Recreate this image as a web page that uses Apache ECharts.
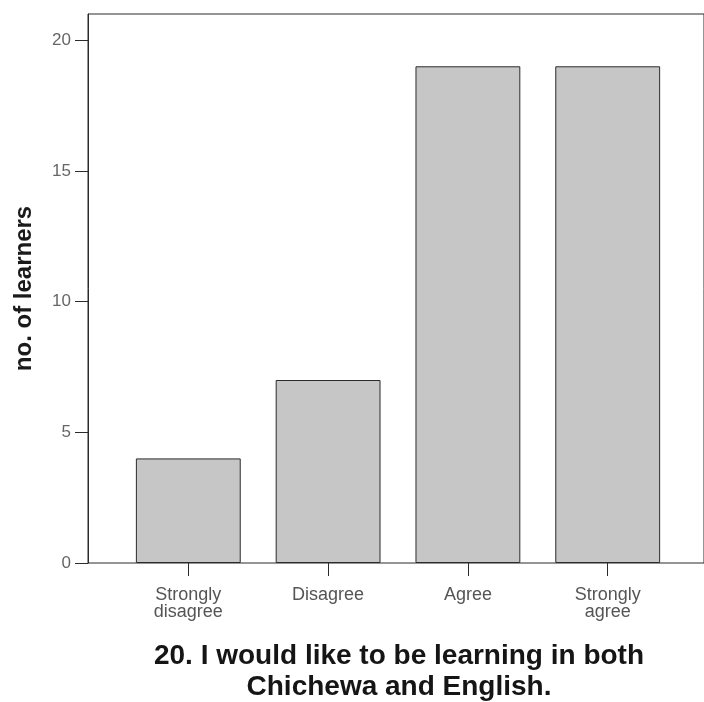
<!DOCTYPE html>
<html>
<head>
<meta charset="utf-8">
<script src="https://cdn.jsdelivr.net/npm/echarts@6/dist/echarts.min.js"></script>
<style>html,body{margin:0;padding:0;background:#fff;}#c{width:704px;height:702px;}</style>
</head>
<body>
<div id="c"></div>
<script>
const categories = ['Strongly\ndisagree', 'Disagree', 'Agree', 'Strongly\nagree'];
const learners = [4, 7, 19, 19];
const yTicks = [0, 5, 10, 15, 20];
const titleText = '20. I would like to be learning in both\nChichewa and English.';
const yName = 'no. of learners';

const chart = echarts.init(document.getElementById('c'));
const font = '"Liberation Sans", Arial, sans-serif';
chart.setOption({
  animation: false,
  backgroundColor: '#ffffff',
  title: {
    text: titleText,
    left: 394, top: 636,
    textAlign: 'center',
    textStyle: { fontFamily: font, fontWeight: 'bold', fontSize: 28, lineHeight: 31, color: '#151515' }
  },
  grid: [
    { left: 88, top: 14, right: -3, bottom: 139, show: true, borderColor: '#2b2b2b', borderWidth: 1, backgroundColor: 'transparent' },
    { left: 118.4, width: 559.2, top: 14, bottom: 139 }
  ],
  xAxis: [
    { type: 'value', gridIndex: 0, min: 0, max: 1, show: false },
    {
      type: 'category', gridIndex: 1, data: categories,
      axisLine: { show: false },
      axisTick: { show: true, alignWithLabel: true, length: 13, lineStyle: { color: '#2b2b2b', width: 1 } },
      axisLabel: { margin: 24, fontFamily: font, fontSize: 18, lineHeight: 17, color: '#555' }
    }
  ],
  yAxis: [
    {
      type: 'value', gridIndex: 0, min: 0, max: 21, interval: 5,
      splitLine: { show: false },
      axisLine: { show: true, lineStyle: { color: '#2b2b2b', width: 1 } },
      axisTick: { show: true, length: 13, customValues: yTicks, lineStyle: { color: '#2b2b2b', width: 1 } },
      axisLabel: {
        margin: 17, fontFamily: font, fontSize: 17, color: '#666',
        customValues: yTicks
      },
      name: yName, nameLocation: 'middle', nameRotate: 90, nameGap: 52,
      nameTextStyle: { fontFamily: font, fontWeight: 'bold', fontSize: 24, color: '#1a1a1a' }
    },
    { type: 'value', gridIndex: 1, min: 0, max: 21, show: false }
  ],
  series: [{
    type: 'bar', xAxisIndex: 1, yAxisIndex: 1,
    data: learners, barWidth: '75%',
    itemStyle: { color: '#c6c6c6', borderColor: '#2b2b2b', borderWidth: 1 }
  }]
});
</script>
</body>
</html>
